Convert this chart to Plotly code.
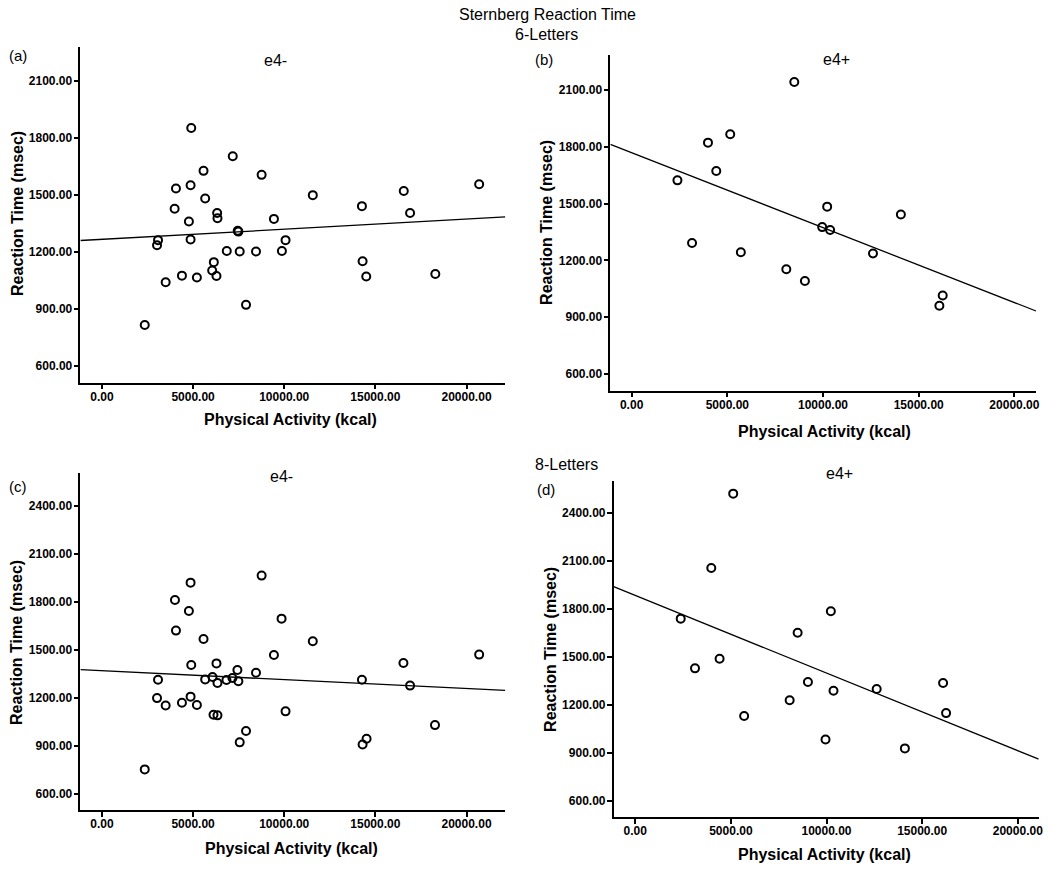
import plotly.graph_objects as go

# Sternberg reaction time vs physical activity, 6-letter and 8-letter sets
# e4- group (same people in both sets)
act_neg = [4900, 7177, 5574, 8761, 4062, 4864, 11567, 5665, 3989, 6321,
           6339, 9436, 4772, 7450, 7486, 4864, 3078, 3024, 10073, 6849,
           7559, 8452, 9873, 14262, 16557, 20692, 16903, 6139, 6048, 6284,
           4390, 5210, 3497, 14299, 14499, 18288, 7905, 2350]
rt6_neg = [1852, 1703, 1626, 1605, 1533, 1550, 1498, 1480, 1426, 1404,
           1376, 1373, 1359, 1310, 1306, 1264, 1261, 1234, 1261, 1204,
           1201, 1201, 1204, 1440, 1520, 1555, 1404, 1145, 1101, 1072,
           1074, 1064, 1039, 1150, 1069, 1083, 920, 814]

act_neg8 = [8761, 4864, 4007, 4772, 9854, 4062, 5574, 11567, 9436, 20692,
            6284, 16539, 4900, 7432, 8452, 3078, 5665, 6066, 6831, 7159,
            7486, 6339, 14262, 16903, 3024, 4864, 4390, 3497, 5210, 6121,
            6339, 10073, 7905, 7559, 18270, 14517, 14299, 2350]
rt8_neg = [1964, 1920, 1812, 1743, 1695, 1620, 1568, 1553, 1467, 1470,
           1415, 1417, 1405, 1374, 1357, 1313, 1315, 1330, 1311, 1324,
           1303, 1292, 1313, 1276, 1198, 1207, 1169, 1152, 1155, 1094,
           1090, 1115, 992, 921, 1029, 944, 908, 752]

# e4+ group
act_pos6 = [8500, 5152, 3990, 4423, 2394, 10217, 14068, 9957, 10373, 3157,
            5707, 12611, 8083, 9054, 16253, 16080]
rt6_pos = [2142, 1866, 1822, 1672, 1623, 1484, 1443, 1376, 1361, 1292,
           1243, 1237, 1153, 1091, 1015, 961]

act_pos8 = [5122, 3976, 10226, 2378, 8490, 4410, 3125, 9028, 16094, 10365,
            12622, 8073, 5694, 16250, 9948, 14097]
rt8_pos = [2521, 2056, 1785, 1739, 1651, 1488, 1428, 1342, 1336, 1288,
           1299, 1228, 1130, 1148, 983, 927]

# fit lines (intercept, slope)
fit_a = [1265.3, 0.00532]
fit_b = [1769.0, -0.03957]
fit_c = [1369.4, -0.00558]
fit_d = [1884.0, -0.04856]

x_ticks = [0, 5000, 10000, 15000, 20000]
y_ticks6 = [600, 900, 1200, 1500, 1800, 2100]
y_ticks8 = [600, 900, 1200, 1500, 1800, 2100, 2400]

W, H = 1050, 871
FONT = 'Liberation Sans, Arial, sans-serif'

panels = [
    # x data, y data, fit, xrange, yrange, yticks, px box (x0, x1, ytop, ybottom)
    (act_neg, rt6_neg, fit_a, [-1180, 22130], [510, 2280], y_ticks6, (80.7, 507.3, 46.7, 382.7)),
    (act_pos6, rt6_pos, fit_b, [-1110, 21130], [512, 2285], y_ticks6, (612.7, 1040, 55, 390.7)),
    (act_neg8, rt8_neg, fit_c, [-1180, 22130], [498, 2604], y_ticks8, (80.7, 507.3, 473.3, 810)),
    (act_pos8, rt8_pos, fit_d, [-1128, 21094], [496, 2602], y_ticks8, (616, 1042.7, 480.7, 817.3)),
]

fig = go.Figure()
layout = {}
for i, (xs, ys, fit, xr, yr, yt, box) in enumerate(panels, start=1):
    xa = 'x' if i == 1 else f'x{i}'
    ya = 'y' if i == 1 else f'y{i}'
    fig.add_trace(go.Scatter(
        x=xs, y=ys, mode='markers', xaxis=xa, yaxis=ya,
        marker=dict(symbol='circle-open', size=8, color='black',
                    line=dict(width=2, color='black')),
        showlegend=False, cliponaxis=False))
    fig.add_trace(go.Scatter(
        x=xr, y=[fit[0] + fit[1] * v for v in xr], mode='lines',
        xaxis=xa, yaxis=ya, line=dict(color='black', width=1.3),
        showlegend=False))
    x0, x1, yt0, yb0 = box
    common = dict(showline=True, linecolor='black', linewidth=1.5,
                  ticks='outside', ticklen=5, tickwidth=1.5, tickcolor='black',
                  showgrid=False, zeroline=False, mirror=False,
                  tickfont=dict(family=FONT, size=12, color='black', weight='bold'),
                  tickformat='.2f')
    layout['xaxis' if i == 1 else f'xaxis{i}'] = dict(
        common, domain=[x0 / W, x1 / W], range=xr, tickvals=x_ticks,
        anchor=ya, ticklabelstandoff=-3)
    layout['yaxis' if i == 1 else f'yaxis{i}'] = dict(
        common, domain=[1 - yb0 / H, 1 - yt0 / H], range=yr, tickvals=yt,
        anchor=xa, ticklabelstandoff=-1)

fig.update_layout(**layout)


def note(text, x, y, size=16, bold=False, angle=0):
    fig.add_annotation(text=text, x=x / W, y=1 - y / H, xref='paper', yref='paper',
                       showarrow=False, textangle=angle, xanchor='center', yanchor='middle',
                       font=dict(family=FONT, size=size, color='black',
                                 weight='bold' if bold else 'normal'))


note('Sternberg Reaction Time', 550, 14, size=16)
note('6-Letters', 549, 34, size=16)
note('8-Letters', 569, 465, size=16)
note('(a)', 18, 56, size=15)
note('(b)', 546, 59, size=15)
note('(c)', 18, 486, size=15)
note('(d)', 548, 489, size=15)
note('e4-', 277, 61, size=16)
note('e4+', 840, 59, size=16)
note('e4-', 283, 476, size=16)
note('e4+', 843, 473, size=16)
for cx, cy in [(292, 420), (828, 431), (293, 848), (828, 854)]:
    note('Physical Activity (kcal)', cx, cy, size=16, bold=True)
for cx, cy in [(17, 213), (549, 222), (16, 642), (552, 649)]:
    note('Reaction Time (msec)', cx, cy, size=16, bold=True, angle=-90)

fig.update_layout(
    width=W, height=H,
    margin=dict(l=0, r=0, t=0, b=0),
    paper_bgcolor='white', plot_bgcolor='white',
    font=dict(family=FONT, color='black'),
)

# drop the default page margin so the figure sits at the window corner
fig.write_html("out.html", config={'displayModeBar': False},
               post_script="document.body.style.margin='0';")
